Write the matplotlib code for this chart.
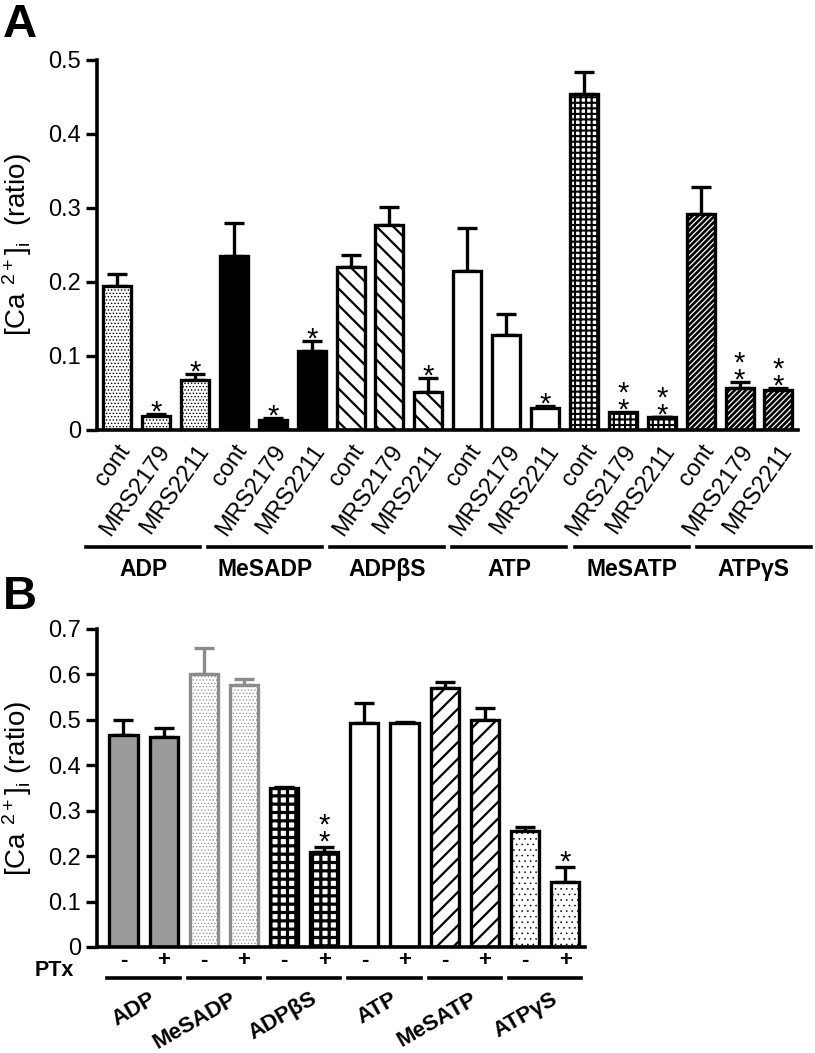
import numpy as np
import matplotlib
matplotlib.use('Agg')
import matplotlib.pyplot as plt

plt.rcParams['font.family'] = ['Liberation Sans', 'DejaVu Sans']
plt.rcParams['mathtext.default'] = 'regular'

# ---- panel A data ----
groups = ['ADP', 'MeSADP', 'ADP\u03b2S', 'ATP', 'MeSATP', 'ATP\u03b3S']
treat_a = ['cont', 'MRS2179', 'MRS2211']
mean_a = [0.195, 0.019, 0.068, 0.235, 0.013, 0.106, 0.220, 0.277, 0.051,
          0.215, 0.128, 0.030, 0.454, 0.024, 0.017, 0.292, 0.057, 0.054]
sem_a = [0.016, 0.003, 0.007, 0.044, 0.003, 0.014, 0.017, 0.024, 0.019,
         0.058, 0.028, 0.002, 0.030, 0.000, 0.001, 0.036, 0.008, 0.003]
stars_a = ['', '*', '*', '', '*', '*', '', '', '*',
           '', '', '*', '', '**', '**', '', '**', '**']

# ---- panel B data ----
ptx = ['-', '+']
mean_b = [0.466, 0.463, 0.600, 0.576, 0.349, 0.210,
          0.494, 0.492, 0.570, 0.500, 0.256, 0.143]
sem_b = [0.034, 0.020, 0.058, 0.014, 0.004, 0.011,
         0.042, 0.003, 0.013, 0.025, 0.007, 0.034]
stars_b = ['', '', '', '', '', '**', '', '', '', '', '', '*']

# style per group: (facecolor, edgecolor, hatch, hatchcolor, hatch lw)
style_a = [('white', 'black', '.....', 'black', 0.6),
           ('black', 'black', '', 'black', 1.0),
           ('white', 'black', '\\\\', 'black', 1.6),
           ('white', 'black', '', 'black', 1.0),
           ('white', 'black', '+++', 'black', 1.5),
           ('black', 'black', '//////', 'white', 0.9)]
style_b = [('#9a9a9a', 'black', '', 'black', 1.0),
           ('white', '#8c8c8c', '.....', '#8c8c8c', 0.5),
           ('white', 'black', '++', 'black', 2.3),
           ('white', 'black', '', 'black', 1.0),
           ('white', 'black', '//', 'black', 1.6),
           ('white', 'black', '...', 'black', 0.4)]


def hatched_bar(ax, x, h, width, hlw, **kw):
    with plt.rc_context({'hatch.linewidth': hlw}):
        bars = ax.bar(x, h, width, **kw)
    for b in bars:
        if hasattr(b, 'set_hatch_linewidth'):
            b.set_hatch_linewidth(hlw)
    return bars


def draw_bars(ax, x, means, sems, styles, per_group, width, stars, star_gap):
    for i in range(len(means)):
        fc, ec, hatch, hc, hlw = styles[i // per_group]
        if hatch and hc != ec:
            hatched_bar(ax, x[i], means[i], width, hlw, color=fc, edgecolor=hc,
                        hatch=hatch, linewidth=0, zorder=2)
            ax.bar(x[i], means[i], width, fill=False, edgecolor=ec,
                   linewidth=2.4, zorder=3)
        else:
            hatched_bar(ax, x[i], means[i], width, hlw, color=fc, edgecolor=ec,
                        hatch=hatch, linewidth=2.4, zorder=2)
        if sems[i] > 0:
            ax.errorbar(x[i], means[i], yerr=[[0], [sems[i]]], fmt='none',
                        ecolor=ec, elinewidth=2.4, capsize=7, capthick=2.4,
                        zorder=1)
        if stars[i]:
            top = means[i] + sems[i]
            ax.annotate('\n'.join(stars[i]), xy=(x[i], top),
                        xytext=(0, star_gap), textcoords='offset points',
                        ha='center', va='bottom', fontsize=21,
                        linespacing=0.5)


fig = plt.figure(figsize=(8.15, 10.53), dpi=100)

# ================= A =================
axA = fig.add_axes([0.119, 0.5917, 0.860, 0.3514])
xa = np.arange(len(mean_a))
draw_bars(axA, xa, mean_a, sem_a, style_a, 3, 0.72, stars_a, -9)
axA.set_xlim(-0.52, 17.5)
axA.set_ylim(0, 0.5)
axA.set_yticks([0, 0.1, 0.2, 0.3, 0.4, 0.5])
axA.set_yticklabels(['0', '0.1', '0.2', '0.3', '0.4', '0.5'], fontsize=17)
axA.set_xticks(xa)
axA.set_xticklabels(treat_a * 6, rotation=55, ha='right',
                    rotation_mode='anchor', fontsize=17)
axA.tick_params(axis='x', length=0, pad=8)
axA.tick_params(axis='y', length=8, width=2.4)
for s in ['top', 'right']:
    axA.spines[s].set_visible(False)
for s in ['left', 'bottom']:
    axA.spines[s].set_linewidth(2.6)
axA.set_ylabel('[Ca $^{2+}$]$_{i}$  (ratio)', fontsize=20, labelpad=10)

tr = axA.get_xaxis_transform()
for g, name in enumerate(groups):
    x0 = 3.14 * g - 0.8
    axA.plot([x0, x0 + 2.93], [-0.316, -0.316], color='black', lw=2.6,
             transform=tr, clip_on=False)
    axA.text(x0 + 1.465, -0.345, name, transform=tr, ha='center', va='top',
             fontsize=16.5, fontweight='bold')

# ================= B =================
axB = fig.add_axes([0.119, 0.1007, 0.599, 0.302])
xb = np.arange(len(mean_b))
draw_bars(axB, xb, mean_b, sem_b, style_b, 2, 0.7, stars_b, -7)
axB.set_xlim(-0.66, 11.5)
axB.set_ylim(0, 0.7)
axB.set_yticks([0, 0.1, 0.2, 0.3, 0.4, 0.5, 0.6, 0.7])
axB.set_yticklabels(['0', '0.1', '0.2', '0.3', '0.4', '0.5', '0.6', '0.7'],
                    fontsize=17)
axB.set_xticks(xb)
axB.set_xticklabels(ptx * 6, fontsize=16, fontweight='bold')
axB.tick_params(axis='x', length=0, pad=2)
axB.tick_params(axis='y', length=8, width=2.4)
for s in ['top', 'right']:
    axB.spines[s].set_visible(False)
for s in ['left', 'bottom']:
    axB.spines[s].set_linewidth(2.6)
axB.set_ylabel('[Ca $^{2+}$]$_{i}$ (ratio)', fontsize=20, labelpad=10)

trb = axB.get_xaxis_transform()
for g, name in enumerate(groups):
    xc = 2 * g + 0.5
    axB.plot([xc - 0.9, xc + 0.9], [-0.097, -0.097], color='black', lw=2.6,
             transform=trb, clip_on=False)
    axB.text(xc + 0.15, -0.13, name, transform=trb, ha='right', va='top',
             rotation=30, rotation_mode='anchor', fontsize=16,
             fontweight='bold')

fig.text(74 / 815, 1 - 970 / 1053, 'PTx', ha='right', va='center',
         fontsize=15.5, fontweight='bold')

fig.text(0.004, 0.997, 'A', ha='left', va='top', fontsize=34,
         fontweight='bold')
fig.text(0.004, 1 - 575 / 1053, 'B', ha='left', va='top', fontsize=34,
         fontweight='bold')

fig.savefig('out.png', dpi=100)
